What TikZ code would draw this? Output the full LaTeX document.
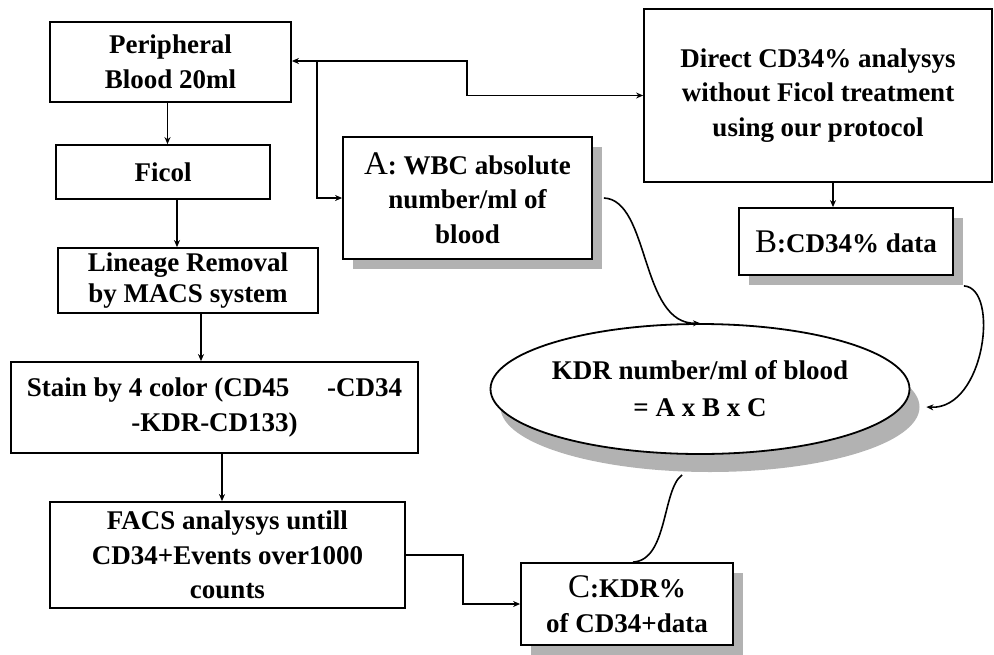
\documentclass[tikz,border=0pt]{standalone}
\usepackage{fontspec}
\setmainfont{Liberation Serif}
\usetikzlibrary{shadows,arrows.meta,shapes.geometric,calc}
\newcommand\myltr[1]{{\mdseries\fontsize{33}{34}\selectfont #1}}
\begin{document}
\begin{tikzpicture}[x=1pt,y=-1pt,
  box/.style={draw, line width=1.8pt, fill=white, inner sep=0pt, align=center,
    font=\bfseries\fontsize{27}{34.5}\selectfont},
  shbox/.style={box, drop shadow={shadow xshift=10pt, shadow yshift=-10pt, fill=gray!60, opacity=1}},
  oval/.style={ellipse, draw, line width=1.8pt, fill=white, inner sep=0pt, align=center,
    font=\bfseries\fontsize{27}{37}\selectfont,
    drop shadow={shadow xshift=10pt, shadow yshift=-18pt, fill=gray!60, opacity=1}},
  conn/.style={line width=1.6pt},
  arr/.style={conn, -{Stealth[length=7pt,width=6pt]}}]
\useasboundingbox (0,0) rectangle (994,654);

\node[box, minimum width=241pt, minimum height=80pt] (P) at (170.5,62) {Peripheral\\Blood 20ml};
\node[box, minimum width=214pt, minimum height=54pt] (F) at (163,172) {Ficol};
\node[box, minimum width=260pt, minimum height=65pt, font=\bfseries\fontsize{27}{31}\selectfont] (L) at (188,280.5) {Lineage Removal\\by MACS system};
\node[box, minimum width=407pt, minimum height=91pt] (S) at (214.5,407.5) {Stain by 4 color (CD45\hspace{1.4em}-CD34\\-KDR-CD133)};
\node[box, minimum width=355pt, minimum height=106pt] (FA) at (227.5,555) {FACS analysys untill\\CD34+Events over1000\\counts};
\node[shbox, minimum width=249pt, minimum height=122pt] (A) at (467.5,198) {\myltr{A}: WBC absolute\\number/ml of\\blood};
\node[box, minimum width=348pt, minimum height=173pt] (D) at (818,95.5) {Direct CD34\% analysys\\without Ficol treatment\\using our protocol};
\node[shbox, minimum width=214pt, minimum height=67pt] (B) at (846,241.5) {\myltr{B}:CD34\% data};
\node[oval, minimum width=414pt, minimum height=130pt] (E) at (700,389) {KDR number/ml of blood\\= A x B x C};
\node[shbox, minimum width=212pt, minimum height=82pt] (C) at (627,604) {\myltr{C}:KDR\%\\of CD34+data};

\coordinate (j) at (317,61);
\draw[arr] (j) -- (P.east |- j);
\draw[arr] (j) -- (467,61) |- (D.west);
\draw[arr] (j) |- (A.west);

\draw[arr] ([xshift=-3pt]P.south) -- ([xshift=-3pt]P.south |- F.north);
\draw[arr] ([xshift=14pt]F.south) -- ([xshift=14pt]F.south |- L.north);
\draw[arr] ([xshift=13pt]L.south) -- ([xshift=13pt]L.south |- S.north);
\draw[arr] ([xshift=7.5pt]S.south) -- ([xshift=7.5pt]S.south |- FA.north);
\draw[arr] (FA.east) -- ++(57,0) |- (C.west);
\draw[arr] ([xshift=15pt]D.south) -- ([xshift=15pt]D.south |- B.north);

\draw[arr] ([xshift=11pt]A.east) .. controls (650,200) and (640,325) .. (E.north);
\draw[arr] ($(B.south east)+(10,10)$) .. controls (1000,288) and (985,410) .. ($(E.east)+(16,18)$);
\draw[conn] ($(E.south)+(-18,20)$) .. controls (662,490) and (668,560) .. ([xshift=6pt]C.north);
\end{tikzpicture}
\end{document}
